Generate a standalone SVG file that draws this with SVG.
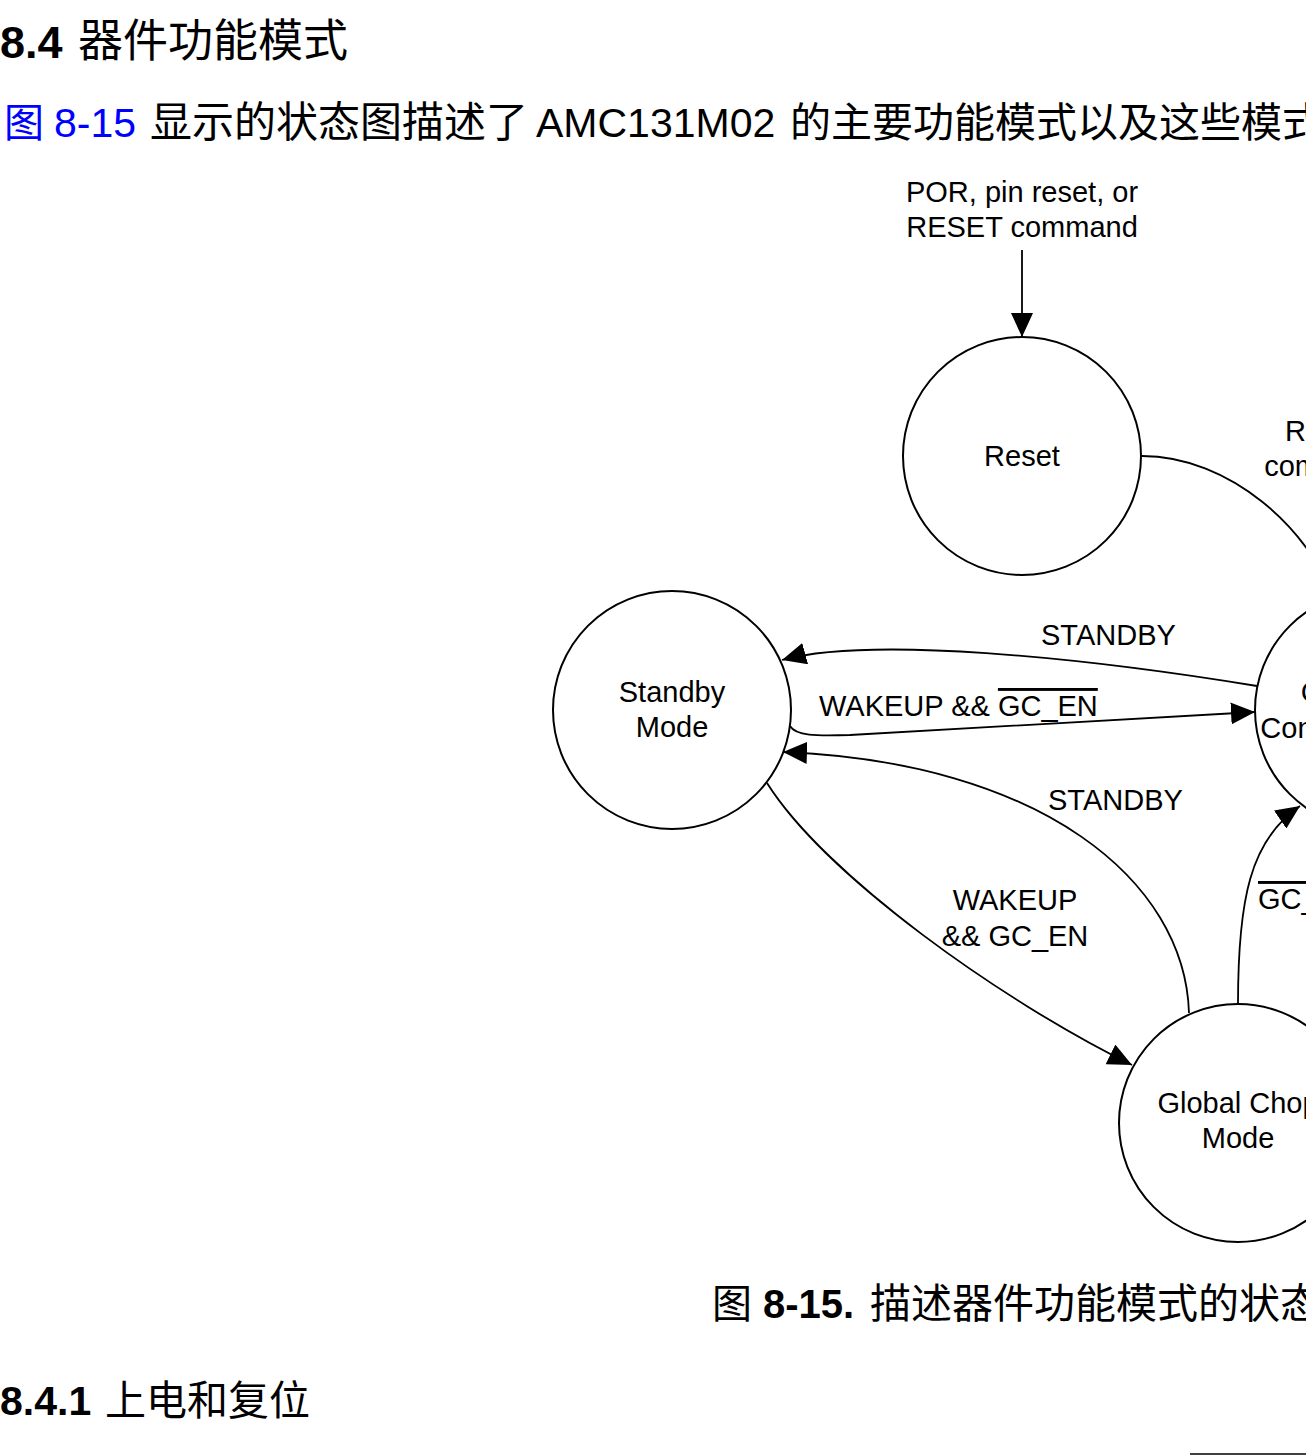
<svg xmlns="http://www.w3.org/2000/svg" width="1306" height="1456" viewBox="0 0 1306 1456">
<style>
.t{font-family:"Liberation Sans","Noto Sans CJK SC",sans-serif;fill:#000}
.c{font-family:"Noto Sans CJK SC",sans-serif;fill:#000}
.lbl{font-family:"Liberation Sans",Arial,sans-serif;font-size:29px;fill:#000}
.mid{text-anchor:middle}
.node{fill:#fff;stroke:#000;stroke-width:2}
.edge{fill:none;stroke:#000;stroke-width:1.8}
.b{font-weight:bold}
.blue{fill:#0000ff}
</style>
<defs>
<marker id="arr" viewBox="0 0 24 22" refX="24" refY="11" markerWidth="24" markerHeight="22" markerUnits="userSpaceOnUse" orient="auto">
<path d="M0,0 L24,11 L0,22 Z" fill="#000"/>
</marker>
</defs>
<rect width="1306" height="1456" fill="#fff"/>

<g id="page-text">
<text class="t" x="0" y="58" font-size="45"><tspan class="b">8.4</tspan></text>
<text class="c" x="78" y="57" font-size="45">器件功能模式</text>
<text class="c blue" x="4" y="137" font-size="40">图</text>
<text class="t blue" x="54" y="137" font-size="41">8-15</text>
<text class="c" x="150" y="137" font-size="42">显示的状态图描述了</text>
<text class="t" x="536" y="137" font-size="41">AMC131M02</text>
<text class="c" x="790" y="137" font-size="41">的主要功能模式以及这些模式之间的转换。</text>
<text class="c" x="712" y="1318" font-size="40">图</text>
<text class="t b" x="763" y="1318" font-size="40">8-15.</text>
<text class="c" x="870" y="1318" font-size="41">描述器件功能模式的状态图</text>
<text class="t b" x="0" y="1415" font-size="41">8.4.1</text>
<text class="c" x="105" y="1415" font-size="41">上电和复位</text>
<line x1="1190" y1="1454" x2="1306" y2="1454" stroke="#000" stroke-width="1.5"/>
</g>

<g id="connectors">
<path class="edge" d="M1022,250 L1022,337" marker-end="url(#arr)"/>
<path class="edge" d="M1142,456 C1230,456 1310,530 1333,598" marker-end="url(#arr)"/>
<path class="edge" d="M1257,686 C1080,657 870,636 782,660" marker-end="url(#arr)"/>
<path class="edge" d="M790,726 C796,736 815,736 850,735 L1255,712" marker-end="url(#arr)"/>
<path class="edge" d="M1189,1013 C1185,880 1040,762 783,752" marker-end="url(#arr)"/>
<path class="edge" d="M767,783 C825,875 1000,1000 1132,1065" marker-end="url(#arr)"/>
<path class="edge" d="M1238,1004 C1238,900 1250,840 1300,806" marker-end="url(#arr)"/>
</g>

<g id="edge-labels">
<text class="lbl mid" x="1022" y="202">POR, pin reset, or</text>
<text class="lbl mid" x="1022" y="237">RESET command</text>
<text class="lbl mid" x="1323" y="441">Reset</text>
<text class="lbl mid" x="1323" y="476">complete</text>
<text class="lbl" x="1041" y="645">STANDBY</text>
<text class="lbl" x="819" y="716">WAKEUP &amp;&amp; <tspan text-decoration="overline">GC_EN</tspan></text>
<text class="lbl" x="1048" y="810">STANDBY</text>
<text class="lbl mid" x="1015" y="910">WAKEUP</text>
<text class="lbl mid" x="1015" y="946">&amp;&amp; GC_EN</text>
<text class="lbl" x="1258" y="909"><tspan text-decoration="overline">GC_EN</tspan></text>
</g>

<g id="node-reset">
<circle class="node" cx="1022" cy="456" r="119"/>
<text class="lbl mid" x="1022" y="466">Reset</text>
</g>
<g id="node-standby">
<circle class="node" cx="672" cy="710" r="119"/>
<text class="lbl mid" x="672" y="702">Standby</text>
<text class="lbl mid" x="672" y="737">Mode</text>
</g>
<g id="node-continuous">
<circle class="node" cx="1374" cy="710" r="119"/>
<text class="lbl mid" x="1374" y="702">Continuous</text>
<text class="lbl mid" x="1374" y="738">Conversion Mode</text>
</g>
<g id="node-globalchop">
<circle class="node" cx="1238" cy="1123" r="119"/>
<text class="lbl mid" x="1238" y="1113">Global Chop</text>
<text class="lbl mid" x="1238" y="1148">Mode</text>
</g>
</svg>
